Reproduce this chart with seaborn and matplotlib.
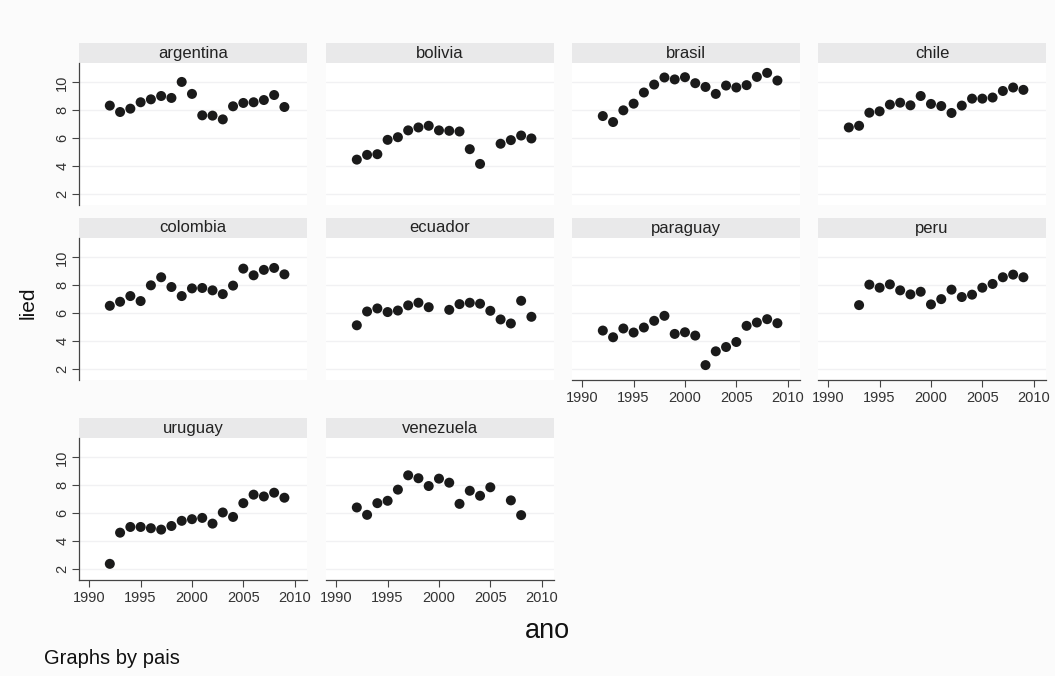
import numpy as np
import pandas as pd
import matplotlib
matplotlib.use("Agg")
import matplotlib.pyplot as plt
from matplotlib.patches import Rectangle
import seaborn as sns

sns.set_style("white")
plt.rcParams["font.family"] = ["Liberation Sans", "DejaVu Sans"]

nan = np.nan
years = list(range(1992, 2010))

argentina = [8.34, 7.88, 8.12, 8.58, 8.79, 9.03, 8.89, 10.04, 9.18, 7.64, 7.62, 7.35, 8.29, 8.53, 8.58, 8.74, 9.10, 8.24]
bolivia = [4.46, 4.80, 4.85, 5.88, 6.07, 6.56, 6.77, 6.89, 6.56, 6.53, 6.48, 5.21, 4.15, nan, 5.60, 5.86, 6.19, 5.98]
brasil = [7.59, 7.16, 8.00, 8.48, 9.28, 9.85, 10.36, 10.22, 10.38, 9.95, 9.68, 9.18, 9.78, 9.64, 9.81, 10.40, 10.69, 10.14]
chile = [6.77, 6.89, 7.83, 7.93, 8.41, 8.55, 8.36, 9.03, 8.46, 8.31, 7.81, 8.34, 8.84, 8.84, 8.92, 9.39, 9.64, 9.47]
colombia = [6.53, 6.82, 7.23, 6.87, 8.00, 8.58, 7.88, 7.23, 7.78, 7.81, 7.64, 7.37, 7.98, 9.20, 8.72, 9.11, 9.25, 8.79]
ecuador = [5.13, 6.12, 6.34, 6.08, 6.19, 6.56, 6.75, 6.43, nan, 6.24, 6.65, 6.75, 6.68, 6.17, 5.55, 5.26, 6.89, 5.74]
paraguay = [4.75, 4.27, 4.90, 4.61, 4.97, 5.45, 5.81, 4.51, 4.63, 4.39, 2.27, 3.26, 3.57, 3.93, 5.09, 5.33, 5.57, 5.28]
peru = [nan, 6.58, 8.05, 7.83, 8.07, 7.64, 7.35, 7.54, 6.63, 7.01, 7.69, 7.16, 7.33, 7.83, 8.10, 8.58, 8.77, 8.58]
uruguay = [2.36, 4.60, 5.01, 5.01, 4.92, 4.82, 5.08, 5.45, 5.57, 5.66, 5.25, 6.05, 5.73, 6.72, 7.33, 7.20, 7.47, 7.11]
venezuela = [6.41, 5.88, 6.72, 6.89, 7.69, 8.72, 8.51, 7.95, 8.48, 8.19, 6.67, 7.61, 7.25, 7.86, nan, 6.92, 5.86, nan]

countries = ["argentina", "bolivia", "brasil", "chile", "colombia",
             "ecuador", "paraguay", "peru", "uruguay", "venezuela"]
series = [argentina, bolivia, brasil, chile, colombia,
          ecuador, paraguay, peru, uruguay, venezuela]

y_ticks = [2, 4, 6, 8, 10]
x_ticks = [1990, 1995, 2000, 2005, 2010]

df = pd.concat(
    [pd.DataFrame({"pais": c, "ano": years, "lied": v}) for c, v in zip(countries, series)],
    ignore_index=True,
).dropna()

W, H = 1055, 676
fig = plt.figure(figsize=(W / 100, H / 100), dpi=100, facecolor="#fbfbfb")

col_left = [79, 326, 572, 818]
panel_w = 228
panel_h = 142
strip_h = 20
row_top = [63, 238, 438]  # top of each plot region (pixels)

XLIM = (1989.0, 2011.2)
YLIM = (1.2, 11.4)

# panels that carry an x axis (bottom of their column) and a y axis (first column)
x_axis_panels = {"paraguay", "peru", "uruguay", "venezuela"}
y_axis_panels = {"argentina", "colombia", "uruguay"}

axis_col = "#444444"
for i, c in enumerate(countries):
    r, k = divmod(i, 4)
    left = col_left[k] / W
    bottom = 1 - (row_top[r] + panel_h) / H
    ax = fig.add_axes([left, bottom, panel_w / W, panel_h / H])
    ax.set_facecolor("white")
    sub = df[df["pais"] == c]
    sns.scatterplot(data=sub, x="ano", y="lied", ax=ax, color="#1a1a1a",
                    s=52, edgecolor="none", linewidth=0, legend=False, zorder=3)
    ax.set_xlim(*XLIM)
    ax.set_ylim(*YLIM)
    ax.set_xlabel("")
    ax.set_ylabel("")
    for y in y_ticks:
        ax.axhline(y, color="#f1f1f3", lw=1.0, zorder=1)
    for s in ax.spines.values():
        s.set_visible(False)

    if c in y_axis_panels:
        ax.spines["left"].set_visible(True)
        ax.spines["left"].set_color(axis_col)
        ax.spines["left"].set_linewidth(0.9)
        ax.set_yticks(y_ticks)
        ax.set_yticklabels([str(t) for t in y_ticks], rotation=90, va="center")
        ax.tick_params(axis="y", left=True, length=5, width=0.8, color=axis_col,
                       labelsize=10.5, labelcolor="#333333", pad=2)
    else:
        ax.set_yticks([])

    if c in x_axis_panels:
        ax.spines["bottom"].set_visible(True)
        ax.spines["bottom"].set_color(axis_col)
        ax.spines["bottom"].set_linewidth(0.9)
        ax.set_xticks(x_ticks)
        ax.set_xticklabels([str(t) for t in x_ticks])
        ax.tick_params(axis="x", bottom=True, length=5, width=0.8, color=axis_col,
                       labelsize=10.5, labelcolor="#333333", pad=3)
    else:
        ax.set_xticks([])

    # strip header
    sh = strip_h / panel_h
    ax.add_patch(Rectangle((0, 1.0), 1, sh, transform=ax.transAxes,
                           facecolor="#e9e9ea", edgecolor="none", clip_on=False))
    ax.text(0.5, 1 + sh / 2, c, transform=ax.transAxes, ha="center", va="center",
            fontsize=12, color="#222222")

fig.text(28 / W, 1 - 303 / H, "lied", rotation=90, ha="center", va="center",
         fontsize=15, color="#111111")
fig.text(570 / W, 1 - 631 / H, "ano", ha="right", va="center",
         fontsize=19.5, color="#111111")
fig.text(44 / W, 1 - 658 / H, "Graphs by pais", ha="left", va="center",
         fontsize=14.5, color="#111111")

fig.savefig("out.png", dpi=100, facecolor=fig.get_facecolor())
